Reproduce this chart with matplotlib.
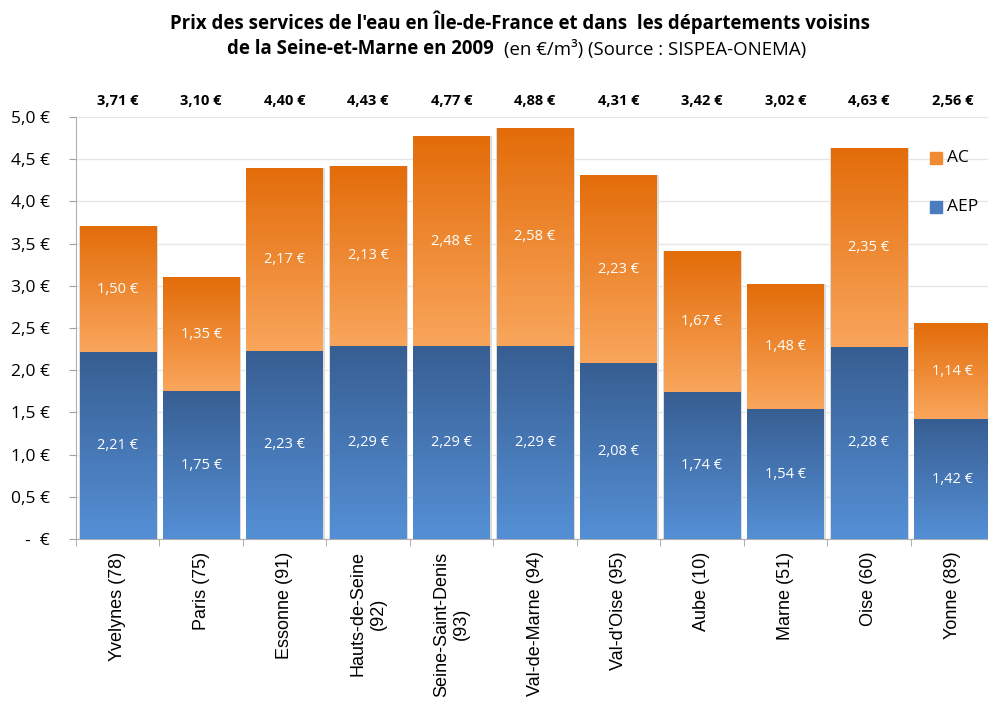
import numpy as np
import matplotlib
matplotlib.use("Agg")
import matplotlib.pyplot as plt
from matplotlib.colors import LinearSegmentedColormap

plt.rcParams['font.family'] = ['Open Sans', 'DejaVu Sans']

departements = ["Yvelynes (78)", "Paris (75)", "Essonne (91)", "Hauts-de-Seine\n(92)",
                "Seine-Saint-Denis\n(93)", "Val-de-Marne (94)", "Val-d'Oise (95)",
                "Aube (10)", "Marne (51)", "Oise (60)", "Yonne (89)"]
aep = [2.21, 1.75, 2.23, 2.29, 2.29, 2.29, 2.08, 1.74, 1.54, 2.28, 1.42]
ac = [1.50, 1.35, 2.17, 2.13, 2.48, 2.58, 2.23, 1.67, 1.48, 2.35, 1.14]
totaux = [3.71, 3.10, 4.40, 4.43, 4.77, 4.88, 4.31, 3.42, 3.02, 4.63, 2.56]


def euro(v):
    return ("%.2f €" % v).replace(".", ",")


fig = plt.figure(figsize=(9.88, 7.01), dpi=100)
# la zone du graphique depasse a droite (Yonne est coupee)
ax = fig.add_axes([76 / 988, 162 / 701, 918 / 988, 422 / 701])

x = np.arange(len(departements))
w = 0.915

blue_cm = LinearSegmentedColormap.from_list("bl", ["#5590d6", "#375e92"])
orange_cm = LinearSegmentedColormap.from_list("or", ["#f9a65c", "#e36c09"])
grad = np.linspace(0, 1, 256).reshape(-1, 1)

# ombre legere
ax.bar(x + 0.01, aep, w + 0.03, color="#dcdcdc", zorder=1, linewidth=0)
ax.bar(x + 0.01, ac, w + 0.03, bottom=aep, color="#dcdcdc", zorder=1, linewidth=0)

bars_aep = ax.bar(x, aep, w, color="#4a7cbf", zorder=2, linewidth=0)
bars_ac = ax.bar(x, ac, w, bottom=aep, color="#f08a33", zorder=2, linewidth=0)

for bars, cm in ((bars_aep, blue_cm), (bars_ac, orange_cm)):
    for b in bars:
        x0, y0 = b.get_x(), b.get_y()
        x1, y1 = x0 + b.get_width(), y0 + b.get_height()
        im = ax.imshow(grad, cmap=cm, origin="lower", aspect="auto",
                       extent=(x0, x1, y0, y1), zorder=3)
        im.set_clip_path(b)
        b.set_facecolor("none")

for i in range(len(departements)):
    ax.text(x[i], aep[i] / 2, euro(aep[i]), color="white", ha="center", va="center",
            fontsize=10.5, zorder=5)
    ax.text(x[i], aep[i] + ac[i] / 2, euro(ac[i]), color="white", ha="center", va="center",
            fontsize=10.5, zorder=5)
    ax.text(x[i], 5.19, euro(totaux[i]), color="black", ha="center", va="center",
            fontsize=10.5, fontweight="bold", zorder=5, clip_on=False)

ax.set_xlim(-0.5, len(departements) - 0.5)
ax.set_ylim(0, 5.0)
yt = np.arange(0, 5.01, 0.5)
ax.set_yticks(yt)
ax.set_yticklabels(["-  €"] + [("%.1f €" % v).replace(".", ",") for v in yt[1:]], fontsize=12.5)
ax.yaxis.grid(True, color="#e6e6e6", linewidth=1, zorder=0)
ax.set_axisbelow(True)

ax.set_xticks(x)
ax.set_xticklabels(departements, rotation=90, fontsize=13, va="top", ha="center",
                   multialignment="center", family=["Liberation Sans", "DejaVu Sans"])
ax.set_xticks(np.arange(-0.5, len(departements)), minor=True)
ax.tick_params(axis="x", which="major", length=0, pad=9)
ax.tick_params(axis="x", which="minor", length=5, color="#a0a0a0")
ax.tick_params(axis="y", length=5, color="#a0a0a0", pad=14)

for s in ("top", "right"):
    ax.spines[s].set_visible(False)
for s in ("left", "bottom"):
    ax.spines[s].set_color("#b0b0b0")

# legende
fig.patches.append(plt.Rectangle((930 / 988, 1 - 164 / 701), 12 / 988, 12 / 701,
                                 transform=fig.transFigure, color="#f08a33", zorder=6))
fig.patches.append(plt.Rectangle((930 / 988, 1 - 213 / 701), 12 / 988, 12 / 701,
                                 transform=fig.transFigure, color="#4a7cbf", zorder=6))
fig.text(947 / 988, 1 - 158 / 701, "AC", fontsize=12.5, va="center", ha="left")
fig.text(947 / 988, 1 - 207 / 701, "AEP", fontsize=12.5, va="center", ha="left")

fig.text(520 / 988, 1 - 22 / 701,
         "Prix des services de l'eau en Île-de-France et dans  les départements voisins",
         fontsize=13.4, fontweight="bold", ha="center", va="center")
fig.text(494 / 988, 1 - 49 / 701, "de la Seine-et-Marne en 2009",
         fontsize=13.4, fontweight="bold", ha="right", va="center")
fig.text(504 / 988, 1 - 49 / 701, "(en €/m³) (Source : SISPEA-ONEMA)",
         fontsize=13.4, ha="left", va="center")

fig.savefig("out.png", dpi=100)
